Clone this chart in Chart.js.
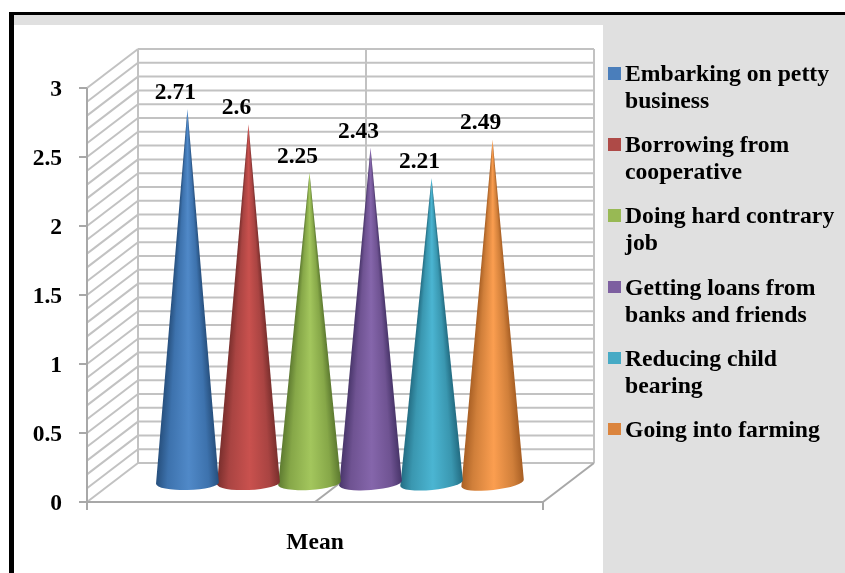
<!DOCTYPE html>
<html lang="en">
<head>
    <meta charset="UTF-8">
    <title>Mean scores by coping strategy</title>
    <script src="https://cdn.jsdelivr.net/npm/chart.js"></script>
    <style>
        html, body {
            margin: 0;
            padding: 0;
            background: #fff;
            overflow: hidden;
        }
        .frame {
            position: absolute;
            left: 9px;
            top: 12px;
            width: 836px;
            height: 561px;
            box-sizing: border-box;
            border-left: 5px solid #000;
            border-top: 3px solid #000;
            background: #e0e0e0;
        }
        .panel {
            position: absolute;
            left: 14px;
            top: 25px;
            width: 588.5px;
            height: 548px;
            background: #fff;
        }
        canvas {
            position: absolute;
            left: 0;
            top: 0;
        }
        #legend {
            position: absolute;
            left: 608px;
            top: 60px;
            width: 236px;
            font: bold 23.7px "Liberation Serif", serif;
            color: #000;
        }
        .item {
            position: relative;
            height: 71.2px;
            padding-left: 17px;
            line-height: 27px;
        }
        .swatch {
            position: absolute;
            left: 0;
            top: 7px;
            width: 12.5px;
            height: 12.5px;
        }
    </style>
</head>
<body>
    <div class="frame"></div>
    <div class="panel"></div>
    <canvas id="chart" width="845" height="573"></canvas>
    <div id="legend"></div>

    <script>
        const category = ["Mean"];
        const seriesNames = [
            "Embarking on petty business",
            "Borrowing from cooperative",
            "Doing hard contrary job",
            "Getting loans from banks and friends",
            "Reducing child bearing",
            "Going into farming"
        ];
        const seriesValues = [2.71, 2.6, 2.25, 2.43, 2.21, 2.49];
        const yTickLabels = ["0", "0.5", "1", "1.5", "2", "2.5", "3"];
        const swatchColors = ["#4a7ebb", "#ae4a47", "#98b954", "#7d5fa0", "#46aac5", "#db843d"];
        const edgeColors = ["#27507e", "#7a2f2d", "#5d7a30", "#48356a", "#236c82", "#a85f24"];
        const sideColors = ["#3d72ad", "#a94442", "#86a748", "#6f5392", "#3a97b0", "#d07f3a"];
        const midColors = ["#5089c8", "#c9514e", "#a3c65d", "#8566ab", "#4bb5d2", "#fb9e50"];

        const FONT = '"Liberation Serif", serif';
        const DEPTH_X = 51, DEPTH_Y = 39;     // how far the back wall sits behind the axis plane
        const CONE_X = 25, CONE_Y = 19;       // cones stand halfway across the floor
        const WALL = "#c2c2c2", AXIS = "#a8a8a8";

        function line(ctx, x1, y1, x2, y2) {
            ctx.beginPath();
            ctx.moveTo(x1, y1);
            ctx.lineTo(x2, y2);
            ctx.stroke();
        }

        // Walls and floor of the 3D box, built from the y scale ticks
        function drawBox(chart) {
            const { ctx, chartArea: a, scales } = chart;
            const left = a.left, right = a.right, bottom = a.bottom, top = a.top;
            ctx.save();
            ctx.strokeStyle = WALL;
            ctx.lineWidth = 2;
            scales.y.ticks.forEach(t => {
                const y = scales.y.getPixelForValue(t.value);
                line(ctx, left, y, left + DEPTH_X, y - DEPTH_Y);
                line(ctx, left + DEPTH_X, y - DEPTH_Y, right + DEPTH_X, y - DEPTH_Y);
            });
            line(ctx, left + DEPTH_X, top - DEPTH_Y, left + DEPTH_X, bottom - DEPTH_Y);
            line(ctx, right + DEPTH_X, top - DEPTH_Y, right + DEPTH_X, bottom - DEPTH_Y);
            const mid = (left + right) / 2;
            line(ctx, mid + DEPTH_X, top - DEPTH_Y, mid + DEPTH_X, bottom - DEPTH_Y);

            ctx.strokeStyle = AXIS;
            line(ctx, mid, bottom, mid + DEPTH_X, bottom - DEPTH_Y);
            line(ctx, right, bottom, right + DEPTH_X, bottom - DEPTH_Y);
            line(ctx, left, top, left, bottom + 8);
            line(ctx, left - 8, bottom, right, bottom);
            line(ctx, right, bottom, right, bottom + 8);
            yTickLabels.forEach(v => {
                const y = scales.y.getPixelForValue(Number(v));
                line(ctx, left - 8, y, left, y);
            });
            ctx.restore();
        }

        function drawCone(chart, i, bar) {
            const ctx = chart.ctx;
            const p = bar.getProps(["x", "y", "base", "width"], true);
            const cx = p.x + CONE_X, cy = p.base - CONE_Y, tip = p.y - CONE_Y;
            const rx = p.width / 2, ry = 7;
            const tilt = (cx - 100) / 3500;      // floor ellipses lean more towards the right

            ctx.save();
            ctx.beginPath();
            ctx.moveTo(cx, tip);
            ctx.lineTo(cx - rx * Math.cos(tilt), cy + rx * Math.sin(tilt));
            ctx.ellipse(cx, cy, rx, ry, -tilt, Math.PI, 0, true);
            ctx.closePath();
            ctx.clip();

            // Shade row by row so the dark rims follow the taper up to the tip
            for (let y = Math.floor(tip); y < cy + ry + 8; y++) {
                const half = Math.max(1, Math.min(rx, rx * (y - tip) / (cy - tip)));
                const grad = ctx.createLinearGradient(cx - half, 0, cx + half, 0);
                grad.addColorStop(0, edgeColors[i]);
                grad.addColorStop(0.18, sideColors[i]);
                grad.addColorStop(0.52, midColors[i]);
                grad.addColorStop(0.84, sideColors[i]);
                grad.addColorStop(1, edgeColors[i]);
                ctx.fillStyle = grad;
                ctx.fillRect(cx - rx - 2, y, 2 * rx + 4, 1);
            }
            ctx.restore();
        }

        const conePlugin = {
            id: "cones",
            beforeDatasetsDraw(chart) {
                drawBox(chart);
            },
            beforeDatasetDraw(chart, args) {
                args.meta.data.forEach(bar => drawCone(chart, args.index, bar));
                return false;
            },
            afterDatasetsDraw(chart) {
                const ctx = chart.ctx;
                ctx.save();
                ctx.font = "bold 23.5px " + FONT;
                ctx.fillStyle = "#000";
                ctx.textAlign = "center";
                ctx.textBaseline = "middle";
                seriesValues.forEach((v, i) => {
                    const bar = chart.getDatasetMeta(i).data[0];
                    const p = bar.getProps(["x", "y"], true);
                    ctx.fillText(String(v), p.x + CONE_X - 12, p.y - CONE_Y - 16);
                });
                ctx.restore();
            }
        };

        new Chart(document.getElementById("chart"), {
            type: "bar",
            data: {
                labels: category,
                datasets: seriesNames.map((name, i) => ({
                    label: name,
                    data: [seriesValues[i]],
                    backgroundColor: swatchColors[i],
                    categoryPercentage: 0.803,
                    barPercentage: 1.03
                }))
            },
            options: {
                responsive: false,
                animation: false,
                layout: { padding: { left: 0, top: 88, right: 302, bottom: 0 } },
                plugins: { legend: { display: false }, tooltip: { enabled: false } },
                scales: {
                    x: {
                        grid: { display: false, drawTicks: false },
                        border: { display: false },
                        afterFit: s => { s.height = 71; },
                        ticks: {
                            padding: 27,
                            color: "#000",
                            font: { family: FONT, size: 23.5, weight: "bold" }
                        }
                    },
                    y: {
                        min: 0,
                        max: 3,
                        grid: { display: false, drawTicks: false },
                        border: { display: false },
                        afterFit: s => { s.width = 87; },
                        ticks: {
                            stepSize: 0.1,
                            autoSkip: false,
                            padding: 25,
                            labelOffset: 2,
                            color: "#000",
                            font: { family: FONT, size: 23.5, weight: "bold" },
                            callback: v => {
                                const text = String(Number(v.toFixed(1)));
                                return yTickLabels.includes(text) ? text : "";
                            }
                        }
                    }
                }
            },
            plugins: [conePlugin]
        });

        // Legend sits on the grey side panel and wraps its longer names
        const legend = document.getElementById("legend");
        seriesNames.forEach((name, i) => {
            const item = document.createElement("div");
            item.className = "item";
            const swatch = document.createElement("span");
            swatch.className = "swatch";
            swatch.style.background = swatchColors[i];
            item.appendChild(swatch);
            item.appendChild(document.createTextNode(name));
            legend.appendChild(item);
        });
    </script>
</body>
</html>
